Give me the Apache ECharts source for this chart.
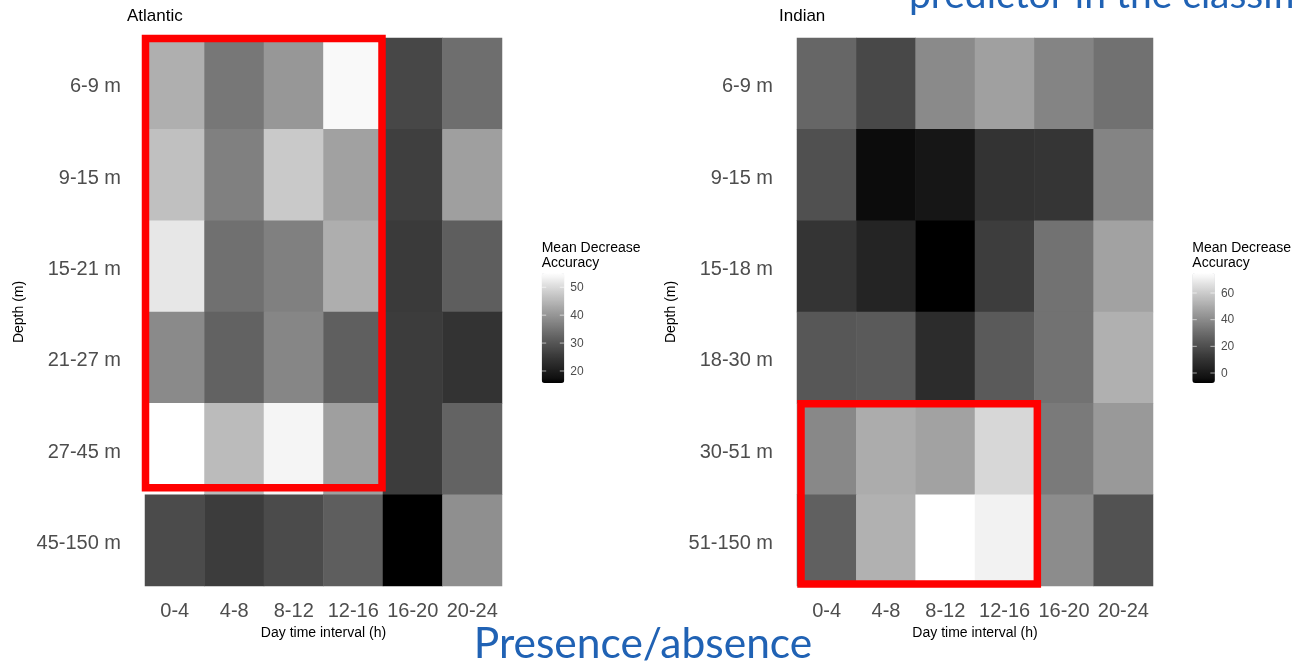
<!DOCTYPE html>
<html>
<head>
<meta charset="utf-8">
<script src="https://cdn.jsdelivr.net/npm/echarts@6/dist/echarts.min.js"></script>
<style>
html,body{margin:0;padding:0;background:#fff;}
#c{width:1294px;height:663px;}
</style>
</head>
<body>
<div id="c"></div>
<script>
// ---- data ----
const dayIntervals = ['0-4','4-8','8-12','12-16','16-20','20-24'];
const depthAtlantic = ['6-9 m','9-15 m','15-21 m','21-27 m','27-45 m','45-150 m'];
const depthIndian = ['6-9 m','9-15 m','15-18 m','18-30 m','30-51 m','51-150 m'];
// rows = depth (top to bottom), columns = day interval
const atlanticMDA = [
  [43.9, 35.4, 40.2, 54.3, 27.6, 34.1],
  [46.3, 36.8, 47.6, 41.8, 26.2, 41.5],
  [51.8, 34.3, 36.8, 43.7, 25.3, 31.4],
  [38.3, 32.1, 37.7, 31.7, 25.7, 24.2],
  [55.1, 45.6, 53.7, 41.5, 25.7, 32.2],
  [28.3, 25.7, 28.3, 31.4, 15.7, 39.1]
];
const indianMDA = [
  [28.1, 17.7, 39.9, 46.9, 38.0, 31.8],
  [20.6, -4.5, -1.5, 10.0, 10.8, 38.0],
  [10.4, 4.2, -7.5, 13.8, 32.1, 47.4],
  [23.0, 24.0, 7.4, 24.0, 32.1, 51.7],
  [39.3, 50.6, 47.4, 63.5, 34.7, 44.6],
  [26.1, 52.1, 75.0, 71.3, 40.5, 21.3]
];
const atlanticRange = [15.7, 55.1];
const indianRange = [-7.5, 75.0];
const atlanticTicks = [20, 30, 40, 50];
const indianTicks = [0, 20, 40, 60];
const panelTitles = ['Atlantic', 'Indian'];
const xTitle = 'Day time interval (h)';
const yTitle = 'Depth (m)';
const legendTitle = 'Mean Decrease\nAccuracy';
const bigTextBottom = 'Presence/absence';
const bigTextTop = 'predictor in the classification';

// ---- styling ----
const FONT = '"Liberation Sans", Arial, sans-serif';
const BLUE_FONT = 'Lato, "Open Sans", sans-serif';
const BLUE = '#2062b4';
// grey ramp approximating a black->white Lab gradient
const greyRamp = ['#000000','#111111','#1b1b1b','#262626','#303030','#3b3b3b','#474747','#525252','#5e5e5e','#6a6a6a','#777777','#848484','#919191','#9e9e9e','#ababab','#b9b9b9','#c6c6c6','#d4d4d4','#e2e2e2','#f1f1f1','#ffffff'];

function toCells(mat){
  const out = [];
  mat.forEach((row, r) => row.forEach((v, c) => out.push([c, r, v])));
  return out;
}

const grids = [
  {left:145, top:38, width:357, height:548},
  {left:797, top:38, width:356, height:548}
];
const legends = [
  {left:541.7, top:273, range: atlanticRange, ticks: atlanticTicks},
  {left:1192.3, top:273, range: indianRange, ticks: indianTicks}
];
const BAR_W = 22.6, BAR_H = 110;

function xAxisFor(i){
  return {
    type:'category', gridIndex:i, data:dayIntervals,
    axisLine:{show:false}, axisTick:{show:false}, splitLine:{show:false},
    axisLabel:{fontFamily:FONT, fontSize:20, color:'#4d4d4d', margin:15, interval:0},
    name:xTitle, nameLocation:'middle', nameGap:32,
    nameTextStyle:{fontFamily:FONT, fontSize:14, color:'#000'}
  };
}
function yAxisFor(i, cats){
  return {
    type:'category', gridIndex:i, data:cats, inverse:true,
    axisLine:{show:false}, axisTick:{show:false}, splitLine:{show:false},
    axisLabel:{fontFamily:FONT, fontSize:20, color:'#4d4d4d', margin:24, verticalAlign:'top', lineHeight:6},
    name:yTitle, nameLocation:'middle', nameGap:119, nameRotate:90,
    nameTextStyle:{fontFamily:FONT, fontSize:14, color:'#000'}
  };
}

const legendGraphics = [];
legends.forEach(lg => {
  legendGraphics.push({
    type:'text', left:lg.left, top:lg.top - 32,
    style:{text:legendTitle, font:'14px ' + FONT, fill:'#000', lineHeight:15}
  });
  const [mn, mx] = lg.range;
  lg.ticks.forEach(t => {
    const y = lg.top + (mx - t) / (mx - mn) * BAR_H;
    legendGraphics.push({
      type:'text', x: lg.left + BAR_W + 6, y: y + 0.5,
      style:{text:String(t), font:'12px ' + FONT, fill:'#4d4d4d', verticalAlign:'middle', align:'left'}
    });
    legendGraphics.push({type:'line', shape:{x1:lg.left, y1:y, x2:lg.left+4.5, y2:y}, style:{stroke:'rgba(255,255,255,0.6)', lineWidth:1}, z:100});
    legendGraphics.push({type:'line', shape:{x1:lg.left+BAR_W-4.5, y1:y, x2:lg.left+BAR_W, y2:y}, style:{stroke:'rgba(255,255,255,0.6)', lineWidth:1}, z:100});
  });
});

const option = {
  animation:false,
  backgroundColor:'#fff',
  title: [
    {text:panelTitles[0], left:127, top:8, padding:0, textStyle:{fontFamily:FONT, fontSize:17, fontWeight:'normal', color:'#000'}},
    {text:panelTitles[1], left:779, top:8, padding:0, textStyle:{fontFamily:FONT, fontSize:17, fontWeight:'normal', color:'#000'}}
  ],
  grid: grids,
  xAxis: [xAxisFor(0), xAxisFor(1)],
  yAxis: [yAxisFor(0, depthAtlantic), yAxisFor(1, depthIndian)],
  visualMap: legends.map((lg, i) => ({
    type:'continuous', seriesIndex:i, min:lg.range[0], max:lg.range[1],
    inRange:{color:greyRamp}, left:lg.left, top:lg.top, padding:0,
    itemWidth:BAR_W, itemHeight:BAR_H, calculable:false, hoverLink:false,
    text:null, textStyle:{fontSize:0}
  })),
  series: [
    {type:'heatmap', xAxisIndex:0, yAxisIndex:0, data:toCells(atlanticMDA),
     itemStyle:{borderWidth:0}, emphasis:{disabled:true}, progressive:0},
    {type:'heatmap', xAxisIndex:1, yAxisIndex:1, data:toCells(indianMDA),
     itemStyle:{borderWidth:0}, emphasis:{disabled:true}, progressive:0}
  ],
  graphic: legendGraphics.concat([
    {type:'text', x:643, y:644, z:200,
     style:{text:bigTextBottom, font:'42.5px ' + BLUE_FONT, fill:BLUE, align:'center', verticalAlign:'middle'}},
    {type:'text', x:909, y:-5, z:200,
     style:{text:bigTextTop, font:'39px ' + BLUE_FONT, fill:BLUE, align:'left', verticalAlign:'middle'}}
  ])
};

const chart = echarts.init(document.getElementById('c'), null, {renderer:'canvas'});
chart.setOption(option);

// red annotation boxes, placed on cell edges of the axes
function cellBox(gi, c0, c1, r0, r1, off){
  const a = chart.convertToPixel({xAxisIndex:gi, yAxisIndex:gi}, [dayIntervals[0], gi===0?depthAtlantic[0]:depthIndian[0]]);
  const b = chart.convertToPixel({xAxisIndex:gi, yAxisIndex:gi}, [dayIntervals[1], gi===0?depthAtlantic[1]:depthIndian[1]]);
  const bw = b[0]-a[0], bh = b[1]-a[1];
  const x0 = a[0] - bw/2 + c0*bw, x1 = a[0] - bw/2 + (c1+1)*bw;
  const y0 = a[1] - bh/2 + r0*bh, y1 = a[1] - bh/2 + (r1+1)*bh;
  return {type:'rect', z:150,
    shape:{x:x0+off[0], y:y0+off[1], width:(x1+off[2])-(x0+off[0]), height:(y1+off[3])-(y0+off[1])},
    style:{fill:'none', stroke:'#ff0000', lineWidth:7.5}};
}
chart.setOption({graphic: option.graphic.concat([
  cellBox(0, 0, 3, 0, 4, [0.5, 0.5, -1, -7]),
  cellBox(1, 0, 3, 4, 5, [4, 0.5, 3, -2])
])});
</script>
</body>
</html>
